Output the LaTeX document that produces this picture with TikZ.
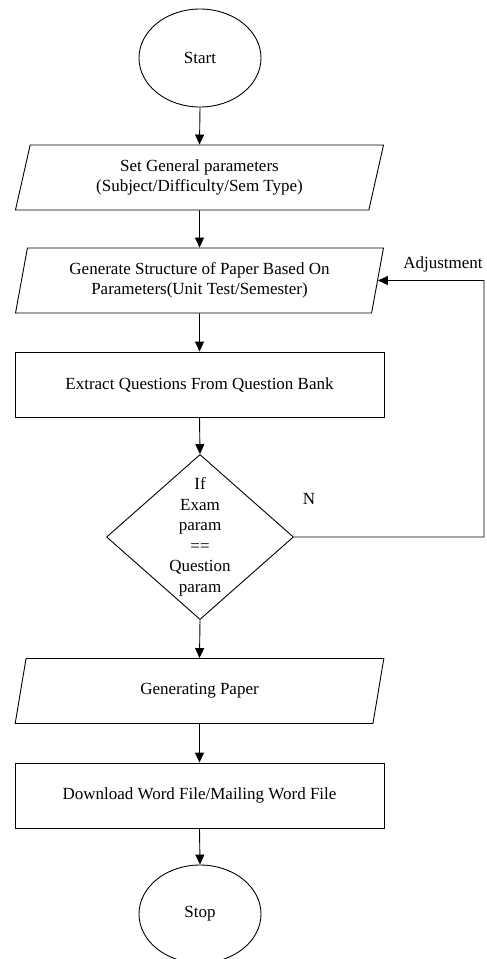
\documentclass[tikz,border=0pt]{standalone}
\usepackage{fontspec}
\setmainfont{Liberation Serif}
\usetikzlibrary{arrows.meta,shapes.geometric}

\begin{document}
\begin{tikzpicture}[x=1pt,y=-1pt]

\tikzstyle{every node}=[font=\fontsize{17}{20.5}\selectfont,align=center]
\tikzstyle{every path}=[line width=0.9pt]
\tikzstyle{term}=[draw,ellipse,minimum width=122pt,minimum height=98pt,inner sep=0pt]
\tikzstyle{io}=[draw,trapezium,trapezium left angle=76,trapezium right angle=104,trapezium stretches=true,minimum width=369pt,minimum height=65pt,inner sep=0pt]
\tikzstyle{proc}=[draw,rectangle,minimum width=369pt,minimum height=65pt,inner sep=0pt]
\tikzstyle{decide}=[draw,diamond,minimum width=187pt,minimum height=165pt,inner sep=0pt]
\tikzstyle{flow}=[-{Triangle[length=10pt,width=9pt]}]

\useasboundingbox (0,0) rectangle (487,959);

\node[term] (start) at (200,58) {Start};
\node[io] (setpar) at (199.5,177.5) {Set General parameters\\(Subject/Difficulty/Sem Type)};
\node[io] (genstruct) at (199.5,280.5) {Generate Structure of Paper Based On\\Parameters(Unit Test/Semester)};
\node[proc] (extract) at (199.5,384.5) {Extract Questions From Question Bank};
\node[decide] (check) at (200,537) {};
\node (checktext) at (check.center) {If\\Exam\\param\\==\\Question\\param};
\node[io] (genpaper) at (199.5,691) {Generating Paper};
\node[proc] (download) at (199.5,795.5) {Download Word File/Mailing Word File};
\node[term] (stop) at (200,914) {Stop};

\node (nlabel) at (309,499) {N};
\node (adjlabel) at (443,264) {Adjustment};
\coordinate (loopcorner) at (484,280.5);

\draw[flow] (start.south) -- (setpar.north);
\draw[flow] (setpar.south) -- (genstruct.north);
\draw[flow] (genstruct.south) -- (extract.north);
\draw[flow] (extract.south) -- (check.north);
\draw[flow] (check.south) -- (genpaper.north);
\draw[flow] (genpaper.south) -- (download.north);
\draw[flow] (download.south) -- (stop.north);
\draw[flow] (check.east) -| (loopcorner) -- (genstruct.east);

\end{tikzpicture}
\end{document}
